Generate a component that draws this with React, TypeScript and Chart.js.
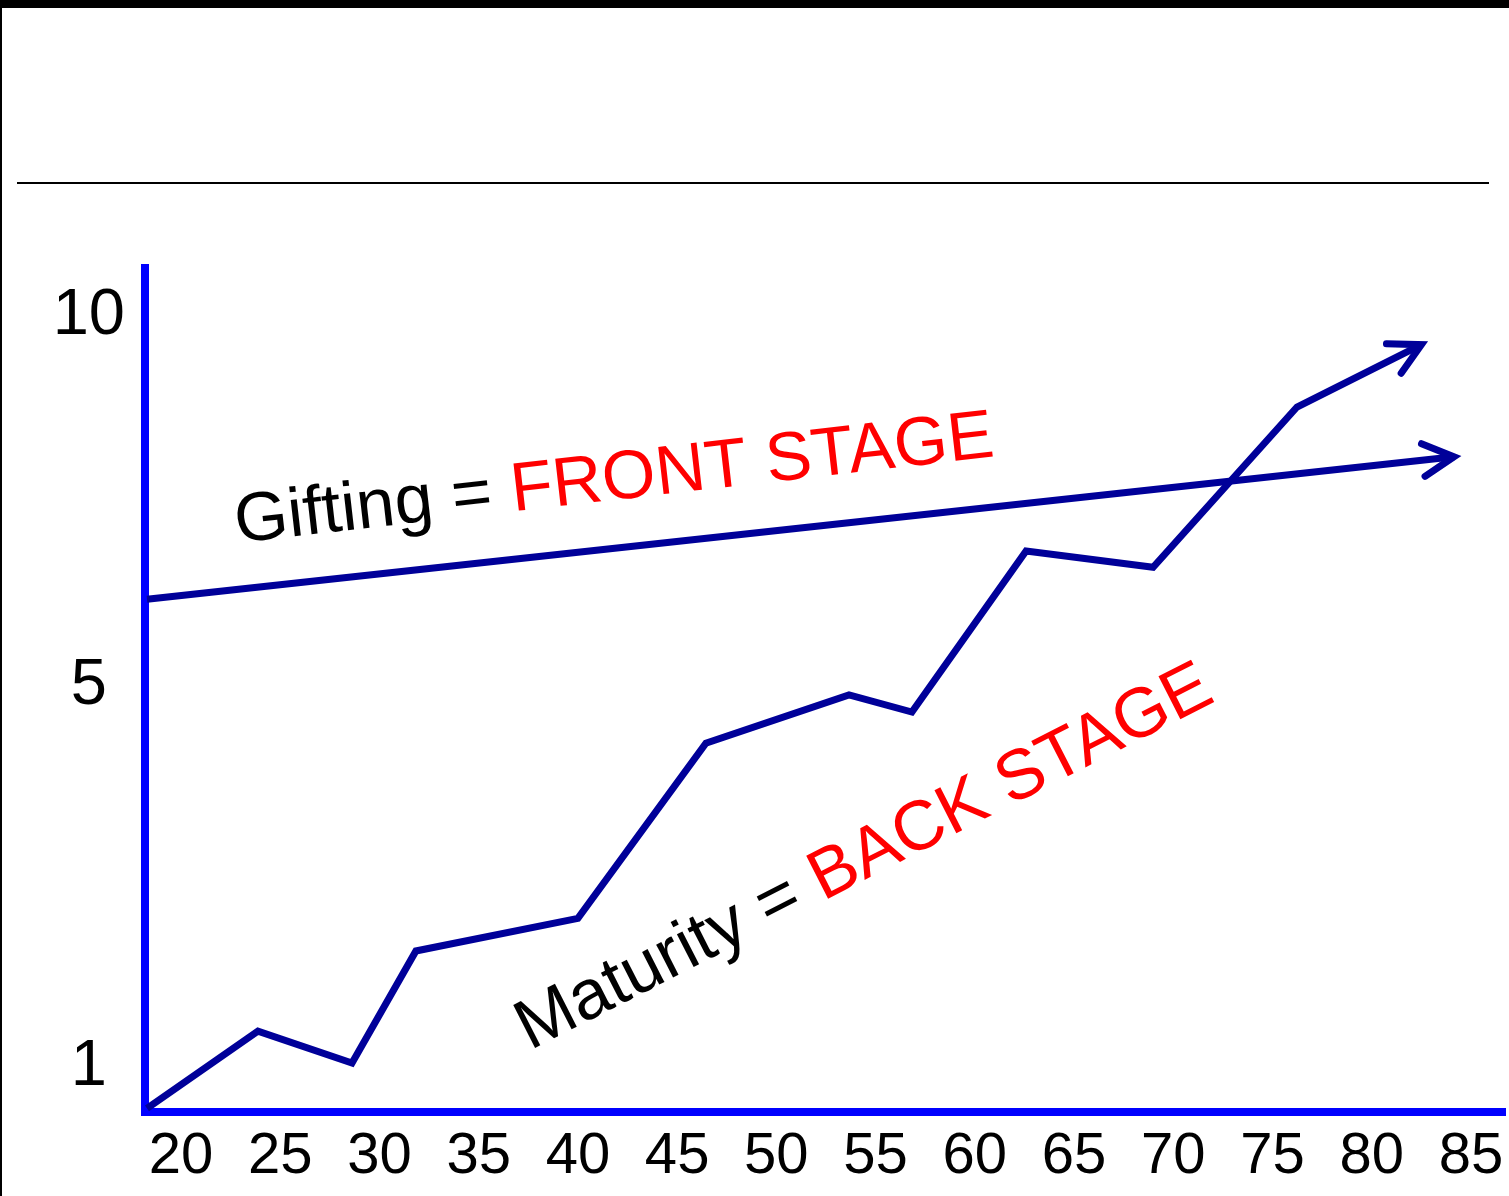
import React, { useEffect, useRef } from "react";
import { Chart, registerables } from "chart.js";

Chart.register(...registerables);

// ---- data ----
const MATURITY_X = [18.29, 23.88, 28.62, 31.84, 40.0, 46.45, 53.66, 56.83, 62.58, 68.98, 76.23, 82.5];
const MATURITY_Y = [-0.73, 0.31, -0.12, 1.39, 1.83, 4.19, 4.84, 4.61, 6.78, 6.56, 8.72, 9.56];
const GIFTING_X = [18.29, 84.14];
const GIFTING_Y = [6.13, 8.05];

const X_TICKS = [20, 25, 30, 35, 40, 45, 50, 55, 60, 65, 70, 75, 80, 85];
const Y_TICK_VALUES = [-0.18, 4.96, 9.95];
const Y_TICK_LABELS = ["1", "5", "10"];

const X_MIN = 18.19;
const X_MAX = 86.71;
const Y_MIN = -0.78;
const Y_MAX = 10.593;

const LABELS = [
  { x: 22.82, y: 6.89, angle: -6.5, size: 69, black: "Gifting = ", red: "FRONT STAGE" },
  { x: 37.59, y: 0.05, angle: -27, size: 70, black: "Maturity = ", red: "BACK STAGE" },
];

const FONT = '"Liberation Sans", Arial, sans-serif';
const LINE_COLOR = "#000099";
const AXIS_COLOR = "#0000ff";

const arrowPlugin = {
  id: "arrows",
  afterDatasetsDraw(chart: any) {
    const ctx = chart.ctx;
    chart.data.datasets.forEach((_ds: any, i: number) => {
      const meta = chart.getDatasetMeta(i);
      const pts = meta.data;
      if (pts.length < 2) return;
      const a = pts[pts.length - 2];
      const b = pts[pts.length - 1];
      const ang = Math.atan2(b.y - a.y, b.x - a.x);
      const len = 35;
      const half = (28 * Math.PI) / 180;
      ctx.save();
      ctx.strokeStyle = LINE_COLOR;
      ctx.lineWidth = 7;
      ctx.lineCap = "round";
      ctx.lineJoin = "miter";
      ctx.beginPath();
      ctx.moveTo(b.x - len * Math.cos(ang - half), b.y - len * Math.sin(ang - half));
      ctx.lineTo(b.x, b.y);
      ctx.lineTo(b.x - len * Math.cos(ang + half), b.y - len * Math.sin(ang + half));
      ctx.stroke();
      ctx.restore();
    });
  },
};

const labelPlugin = {
  id: "stageLabels",
  afterDatasetsDraw(chart: any) {
    const ctx = chart.ctx;
    const xs = chart.scales.x;
    const ys = chart.scales.y;
    LABELS.forEach((l) => {
      const px = xs.getPixelForValue(l.x);
      const py = ys.getPixelForValue(l.y);
      ctx.save();
      ctx.translate(px, py);
      ctx.rotate((l.angle * Math.PI) / 180);
      ctx.font = `${l.size}px ${FONT}`;
      ctx.textAlign = "left";
      ctx.textBaseline = "alphabetic";
      ctx.fillStyle = "#000000";
      ctx.fillText(l.black, 0, 0);
      const w = ctx.measureText(l.black).width;
      ctx.fillStyle = "#ff0000";
      ctx.fillText(l.red, w, 0);
      ctx.restore();
    });
  },
};

export default function App() {
  const ref = useRef<HTMLCanvasElement | null>(null);

  useEffect(() => {
    if (!ref.current) return;
    const chart = new Chart(ref.current, {
      type: "line",
      data: {
        datasets: [
          {
            label: "Maturity",
            data: MATURITY_X.map((x, i) => ({ x, y: MATURITY_Y[i] })),
            borderColor: LINE_COLOR,
            borderWidth: 7,
            pointRadius: 0,
            borderJoinStyle: "miter",
            tension: 0,
          },
          {
            label: "Gifting",
            data: GIFTING_X.map((x, i) => ({ x, y: GIFTING_Y[i] })),
            borderColor: LINE_COLOR,
            borderWidth: 7,
            pointRadius: 0,
            tension: 0,
          },
        ],
      },
      options: {
        animation: false,
        responsive: false,
        maintainAspectRatio: false,
        layout: { padding: { top: 268, right: 4, left: 0, bottom: 0 } },
        plugins: { legend: { display: false }, tooltip: { enabled: false } },
        scales: {
          x: {
            type: "linear",
            min: X_MIN,
            max: X_MAX,
            afterBuildTicks: (s: any) => {
              s.ticks = X_TICKS.map((v) => ({ value: v }));
            },
            afterFit: (s: any) => {
              s.height = 84;
              s.paddingLeft = 0;
              s.paddingRight = 0;
            },
            grid: { display: false, drawTicks: false },
            border: { display: true, color: AXIS_COLOR, width: 8 },
            ticks: {
              color: "#000",
              font: { family: FONT, size: 58, lineHeight: 1 },
              padding: 16,
              maxRotation: 0,
              autoSkip: false,
            },
          },
          y: {
            type: "linear",
            min: Y_MIN,
            max: Y_MAX,
            afterBuildTicks: (s: any) => {
              s.ticks = Y_TICK_VALUES.map((v) => ({ value: v }));
            },
            afterFit: (s: any) => {
              s.width = 145;
              s.paddingTop = 0;
              s.paddingBottom = 0;
            },
            grid: { display: false, drawTicks: false },
            border: { display: true, color: AXIS_COLOR, width: 8 },
            ticks: {
              color: "#000",
              font: { family: FONT, size: 65, lineHeight: 1 },
              padding: 20,
              crossAlign: "center",
              autoSkip: false,
              callback: (v: any) => {
                const idx = Y_TICK_VALUES.indexOf(v);
                return idx >= 0 ? Y_TICK_LABELS[idx] : "";
              },
            },
          },
        },
      },
      plugins: [arrowPlugin, labelPlugin],
    } as any);
    return () => chart.destroy();
  }, []);

  return (
    <div style={{ position: "fixed", left: 0, top: 0, width: 1509, height: 1196, background: "#fff", overflow: "hidden" }}>
      <div style={{ position: "absolute", left: 0, top: 0, width: 1509, height: 8, background: "#000" }} />
      <div style={{ position: "absolute", left: 0, top: 0, width: 2, height: 1196, background: "#000" }} />
      <div style={{ position: "absolute", left: 17, top: 182, width: 1472, height: 2, background: "#000" }} />
      <canvas ref={ref} width={1509} height={1196} style={{ position: "absolute", left: 0, top: 0, width: 1509, height: 1196 }} />
    </div>
  );
}
